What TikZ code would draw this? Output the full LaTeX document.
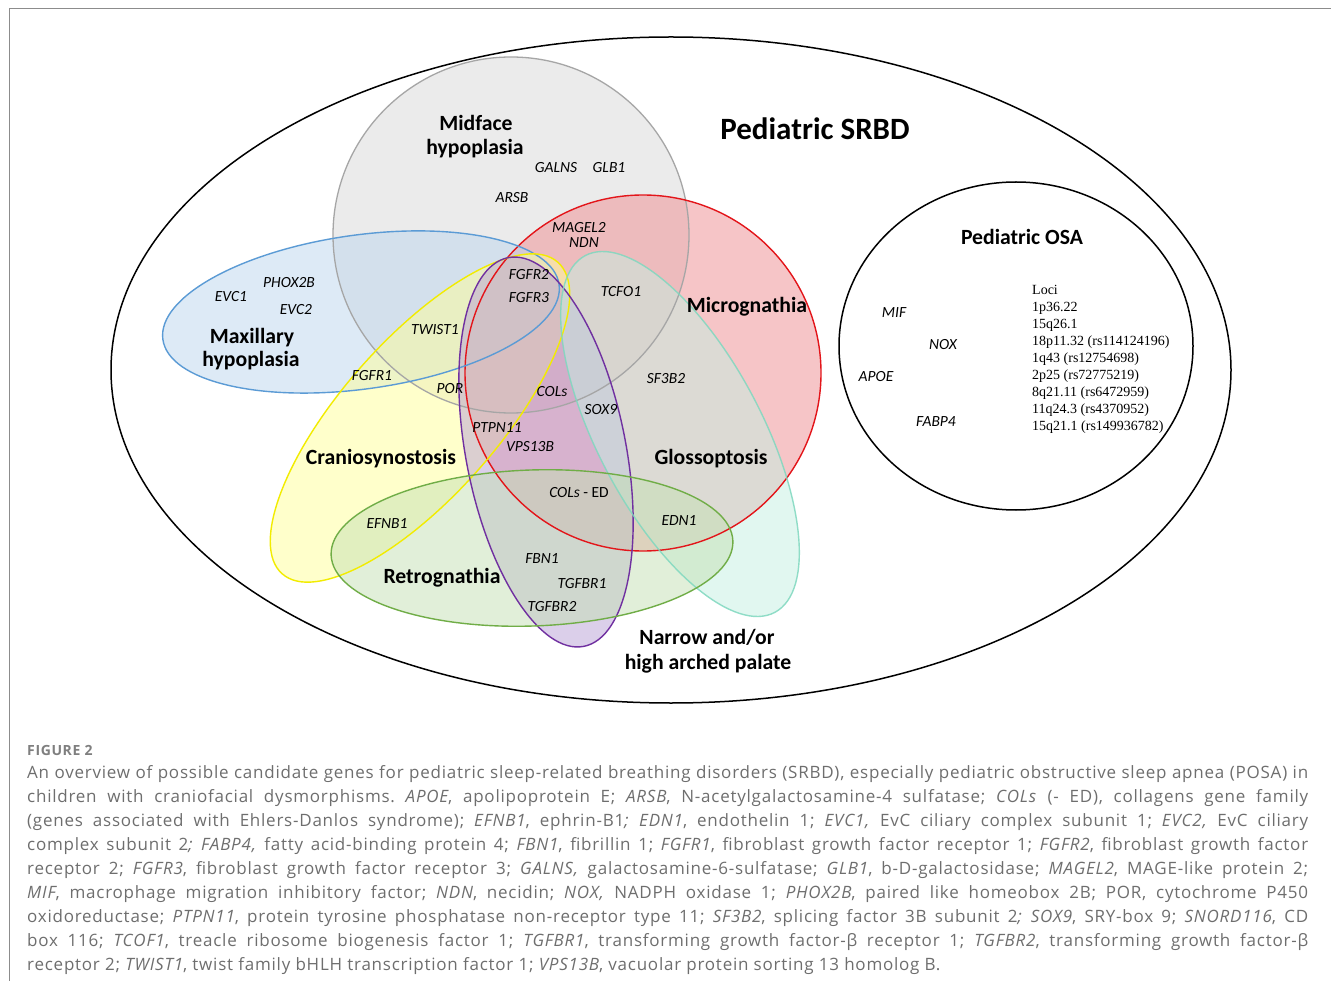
\documentclass[tikz,border=0pt]{standalone}
\usepackage{fontspec}
\setmainfont{Carlito}
\newfontfamily\capfont[LetterSpace=4.5]{Open Sans}
\newfontfamily\locifont{Liberation Serif}
\frenchspacing
\definecolor{capgray}{HTML}{6E6E6E}
\definecolor{figgray}{HTML}{7F7F7F}
\definecolor{framegray}{HTML}{8C8C8C}
\definecolor{midline}{HTML}{A6A6A6}
\definecolor{midfill}{HTML}{D9D9D9}
\definecolor{redline}{HTML}{E3151A}
\definecolor{redfill}{HTML}{EF8C90}
\definecolor{blueline}{HTML}{5B9BD5}
\definecolor{bluefill}{HTML}{BDD7EE}
\definecolor{yelline}{HTML}{F2EC00}
\definecolor{yelfill}{HTML}{FFFF99}
\definecolor{purline}{HTML}{7030A0}
\definecolor{purfill}{HTML}{B9A0D6}
\definecolor{tealline}{HTML}{7FD8BF}
\definecolor{tealfill}{HTML}{C4F0E2}
\definecolor{grnline}{HTML}{70AD47}
\definecolor{grnfill}{HTML}{C5E0B4}
\begin{document}
\begin{tikzpicture}[x=1pt,y=-1pt,
  outerline/.style={draw=black, line width=1.5pt},
  lab/.style={font=\bfseries\fontsize{21.7}{26}\selectfont, inner sep=0pt, text height=13.5pt, text depth=0pt},
  title/.style={font=\bfseries\fontsize{31}{36}\selectfont, inner sep=0pt, text height=19.5pt, text depth=0pt},
  gene/.style={font=\itshape\fontsize{15.5}{18}\selectfont, inner sep=0pt, text height=10pt, text depth=0pt},
  loci/.style={font=\locifont\fontsize{14}{17}\selectfont, anchor=west, inner sep=0pt, text height=9.4pt, text depth=0pt},
  capline/.style={anchor=base west, inner sep=0pt, font=\capfont\fontsize{17}{24}\selectfont, text=capgray}
]
\useasboundingbox (0,0) rectangle (1331,981);
\fill[white] (0,0) rectangle (1331,981);
\draw[framegray, line width=0.8pt] (1331,8) -- (9,8) -- (9,981);

% centres
\coordinate (cOuter) at (671,370);
\coordinate (cOSA) at (1016,346);
\coordinate (cMid) at (511,235);
\coordinate (cMic) at (643,373);
\coordinate (cMax) at (361,312);
\coordinate (cCra) at (420,418);
\coordinate (cPal) at (546,452);
\coordinate (cGlo) at (680,434);
\coordinate (cRet) at (532,548);

% outer sets
\draw[outerline] (cOuter) ellipse [x radius=560pt, y radius=333pt];
\draw[outerline] (cOSA) ellipse [x radius=177pt, y radius=164pt];

% fills
\fill[midfill, fill opacity=0.5] (cMid) circle [radius=178pt];
\fill[redfill, fill opacity=0.5] (cMic) circle [radius=178pt];
\fill[bluefill, fill opacity=0.5, rotate around={7.9:(cMax)}] (cMax) ellipse [x radius=200pt, y radius=77pt];
\fill[yelfill, fill opacity=0.5, rotate around={48.5:(cCra)}] (cCra) ellipse [x radius=208pt, y radius=78pt];
\fill[purfill, fill opacity=0.5, rotate around={11:(cPal)}] (cPal) ellipse [x radius=80pt, y radius=198pt];
\fill[tealfill, fill opacity=0.5, rotate around={28:(cGlo)}] (cGlo) ellipse [x radius=82pt, y radius=202pt];
\fill[grnfill, fill opacity=0.5, rotate around={2:(cRet)}] (cRet) ellipse [x radius=201pt, y radius=78pt];

% outlines
\draw[midline, line width=1.3pt] (cMid) circle [radius=178pt];
\draw[redline, line width=1.4pt] (cMic) circle [radius=178pt];
\draw[blueline, line width=1.4pt, rotate around={7.9:(cMax)}] (cMax) ellipse [x radius=200pt, y radius=77pt];
\draw[yelline, line width=1.4pt, rotate around={48.5:(cCra)}] (cCra) ellipse [x radius=208pt, y radius=78pt];
\draw[purline, line width=1.4pt, rotate around={11:(cPal)}] (cPal) ellipse [x radius=80pt, y radius=198pt];
\draw[tealline, draw opacity=0.85, line width=1.4pt, rotate around={28:(cGlo)}] (cGlo) ellipse [x radius=82pt, y radius=202pt];
\draw[grnline, line width=1.4pt, rotate around={2:(cRet)}] (cRet) ellipse [x radius=201pt, y radius=78pt];

% set labels
\node[title] (tSRBD) at (815,130) {Pediatric SRBD};
\node[lab] (tOSA) at (1022,238) {Pediatric OSA};
\node[lab] (tMidA) at (476,124) {Midface};
\node[lab] (tMidB) at (475,148) {hypoplasia};
\node[lab] (tMaxA) at (252,337) {Maxillary};
\node[lab] (tMaxB) at (251,360) {hypoplasia};
\node[lab] (tMic) at (747,306) {Micrognathia};
\node[lab] (tCra) at (381,458) {Craniosynostosis};
\node[lab] (tGlo) at (711,458) {Glossoptosis};
\node[lab] (tRet) at (442,577) {Retrognathia};
\node[lab] (tPalA) at (707,638) {Narrow and/or};
\node[lab] (tPalB) at (708,663) {high arched palate};

% genes
\node[gene] (gGALNS) at (556,168) {GALNS};
\node[gene] (gGLB1) at (609,168) {GLB1};
\node[gene] (gARSB) at (512,198) {ARSB};
\node[gene] (gMAGEL2) at (579,228) {MAGEL2};
\node[gene] (gNDN) at (584,243) {NDN};
\node[gene] (gFGFR2) at (529,275) {FGFR2};
\node[gene] (gFGFR3) at (529,298) {FGFR3};
\node[gene] (gTCFO1) at (621,292) {TCFO1};
\node[gene] (gPHOX2B) at (289,283) {PHOX2B};
\node[gene] (gEVC1) at (231,297) {EVC1};
\node[gene] (gEVC2) at (296,310) {EVC2};
\node[gene] (gTWIST1) at (435,330) {TWIST1};
\node[gene] (gFGFR1) at (372,376) {FGFR1};
\node[gene] (gPOR) at (450,389) {POR};
\node[gene] (gCOLs) at (552,392) {COLs};
\node[gene] (gSF3B2) at (666,379) {SF3B2};
\node[gene] (gSOX9) at (601,410) {SOX9};
\node[gene] (gPTPN11) at (497,427) {PTPN11};
\node[gene] (gVPS13B) at (530,447) {VPS13B};
\node[gene] (gCOLsED) at (579,492) {COLs\upshape\ - ED};
\node[gene] (gEFNB1) at (387,523) {EFNB1};
\node[gene] (gEDN1) at (679,520) {EDN1};
\node[gene] (gFBN1) at (542,558) {FBN1};
\node[gene] (gTGFBR1) at (582,583) {TGFBR1};
\node[gene] (gTGFBR2) at (552,606) {TGFBR2};
\node[gene] (gMIF) at (894,313) {MIF};
\node[gene] (gNOX) at (943,345) {NOX};
\node[gene] (gAPOE) at (876,377) {APOE};
\node[gene] (gFABP4) at (936,422) {FABP4};

% loci
\foreach \t [count=\i from 0] in {Loci, 1p36.22, 15q26.1, 18p11.32 (rs114124196), 1q43 (rs12754698), 2p25 (rs72775219), 8q21.11 (rs6472959), 11q24.3 (rs4370952), 15q21.1 (rs149936782)}
  \node[loci] (loci\i) at (1032,{290+17*\i}) {\t};

% caption
\node[anchor=base west, inner sep=0pt, font=\capfont\bfseries\fontsize{14}{17}\selectfont, text=figgray] (figlab) at (27,755) {FIGURE 2};
\node[capline] (cap1) at (27,778) {\makebox[1281pt][s]{An overview of possible candidate genes for pediatric sleep-related breathing disorders (SRBD), especially pediatric obstructive sleep apnea (POSA) in}};
\node[capline] (cap2) at (27,802) {\makebox[1281pt][s]{children with craniofacial dysmorphisms. \textit{APOE}, apolipoprotein E; \textit{ARSB}, N-acetylgalactosamine-4 sulfatase; \textit{COLs} (- ED), collagens gene family}};
\node[capline] (cap3) at (27,826) {\makebox[1281pt][s]{(genes associated with Ehlers-Danlos syndrome); \textit{EFNB1}, ephrin-B1\textit{;} \textit{EDN1}, endothelin 1; \textit{EVC1,} EvC ciliary complex subunit 1; \textit{EVC2,} EvC ciliary}};
\node[capline] (cap4) at (27,850) {\makebox[1281pt][s]{complex subunit 2\textit{;} \textit{FABP4,} fatty acid-binding protein 4; \textit{FBN1}, fibrillin 1; \textit{FGFR1}, fibroblast growth factor receptor 1; \textit{FGFR2}, fibroblast growth factor}};
\node[capline] (cap5) at (27,874) {\makebox[1281pt][s]{receptor 2; \textit{FGFR3}, fibroblast growth factor receptor 3; \textit{GALNS,} galactosamine-6-sulfatase; \textit{GLB1}, b-D-galactosidase; \textit{MAGEL2}, MAGE-like protein 2;}};
\node[capline] (cap6) at (27,898) {\makebox[1281pt][s]{\textit{MIF}, macrophage migration inhibitory factor; \textit{NDN}, necidin; \textit{NOX,} NADPH oxidase 1; \textit{PHOX2B}, paired like homeobox 2B; POR, cytochrome P450}};
\node[capline] (cap7) at (27,922) {\makebox[1281pt][s]{oxidoreductase; \textit{PTPN11}, protein tyrosine phosphatase non-receptor type 11; \textit{SF3B2}, splicing factor 3B subunit 2\textit{;} \textit{SOX9}, SRY-box 9; \textit{SNORD116}, CD}};
\node[capline] (cap8) at (27,946) {\makebox[1281pt][s]{box 116; \textit{TCOF1}, treacle ribosome biogenesis factor 1; \textit{TGFBR1}, transforming growth factor-β receptor 1; \textit{TGFBR2}, transforming growth factor-β}};
\node[capline] (cap9) at (27,970) {receptor 2; \textit{TWIST1}, twist family bHLH transcription factor 1; \textit{VPS13B}, vacuolar protein sorting 13 homolog B.};
\end{tikzpicture}
\end{document}
